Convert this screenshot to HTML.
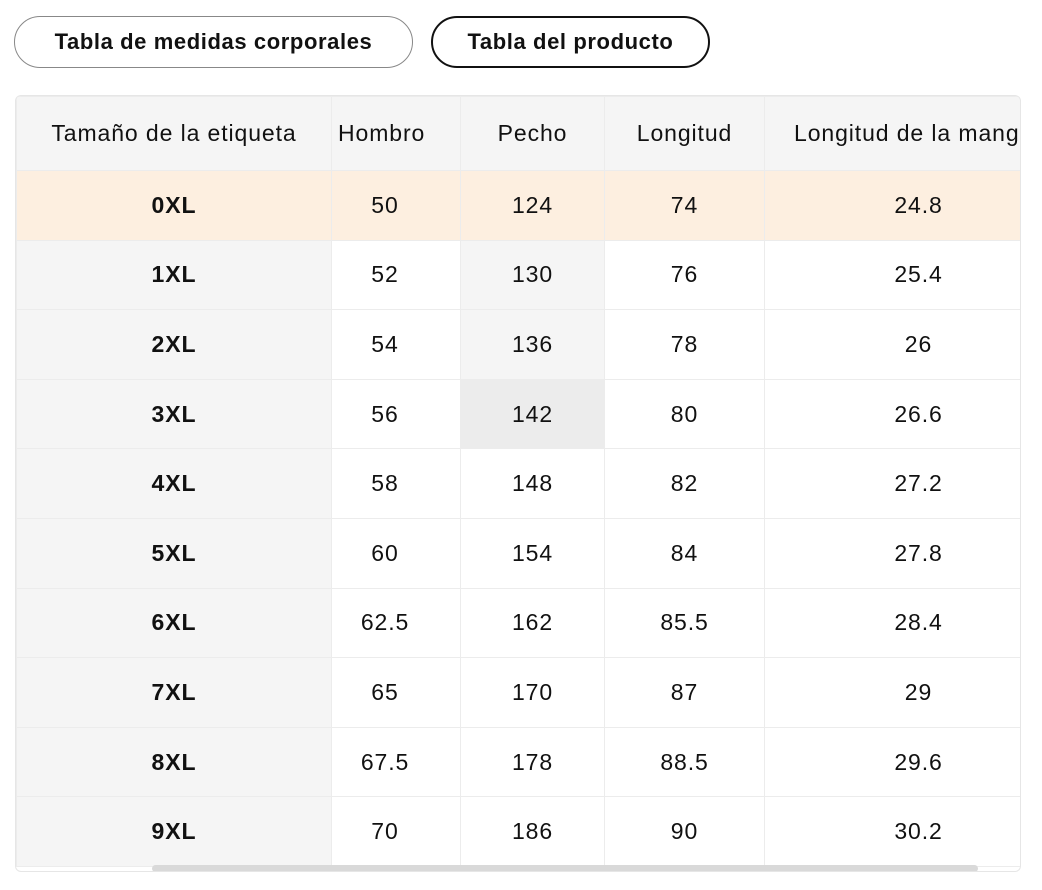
<!DOCTYPE html>
<html><head><meta charset="utf-8"><style>
body{margin:0;width:1042px;height:890px;background:#fff;font-family:"Liberation Sans",Arial,sans-serif;color:#111;position:relative;overflow:hidden}
.btn{position:absolute;top:16px;height:52px;box-sizing:border-box;border-radius:26px;background:#fff;font-size:22px;font-weight:bold;letter-spacing:0.6px;display:flex;align-items:center;justify-content:center;color:#111}
#b1{left:14px;width:399px;border:1px solid #888}
#b2{left:431px;width:279px;border:2px solid #111}
#wrap{position:absolute;left:15px;top:95px;width:1006px;height:777px;border:1px solid #e6e6e6;border-radius:6px;overflow:hidden;box-sizing:border-box}
table{border-collapse:collapse;table-layout:fixed;width:1060px;position:absolute;left:0;top:0}
td,th{border:1px solid #ececec;text-align:center;font-size:23px;letter-spacing:0.9px;font-weight:normal;padding:0}
th{height:73px;background:#f5f5f5;white-space:nowrap;overflow:hidden}
td{height:68.6px;background:#fff}
td.lab{background:#f5f5f5;font-weight:bold}
tr.hl td{background:#fdefe0}
#sb{position:absolute;left:136px;top:769px;width:826px;height:7px;background:#d9d9d9;border-radius:4px}
</style></head><body>
<div class="btn" id="b1">Tabla de medidas corporales</div>
<div class="btn" id="b2">Tabla del producto</div>
<div id="wrap">
<table>
<colgroup><col style="width:315px"><col style="width:129px"><col style="width:144px"><col style="width:160px"><col style="width:312px"></colgroup>
<thead><tr>
<th>Tamaño de la etiqueta</th>
<th style="text-align:left;padding-left:6px">Hombro</th>
<th>Pecho</th>
<th>Longitud</th>
<th style="text-align:left;padding-left:29px">Longitud de la manga</th>
</tr></thead>
<tbody id="tb"></tbody></table>
<div id="sb"></div>
</div>
<script>
const sizes=["0XL","1XL","2XL","3XL","4XL","5XL","6XL","7XL","8XL","9XL"];
const shoulder=["50","52","54","56","58","60","62.5","65","67.5","70"];
const chest=["124","130","136","142","148","154","162","170","178","186"];
const lengthV=["74","76","78","80","82","84","85.5","87","88.5","90"];
const sleeve=["24.8","25.4","26","26.6","27.2","27.8","28.4","29","29.6","30.2"];
const tb=document.getElementById('tb');
sizes.forEach((s,i)=>{
 const tr=document.createElement('tr');
 
 
 if(i===0)tr.className='hl';
 [s,shoulder[i],chest[i],lengthV[i],sleeve[i]].forEach((v,j)=>{
  const td=document.createElement('td');
  
  
  td.textContent=v;
  if(j===0)td.className='lab';
  if(j===1)td.style.paddingRight='22px';
  if(j===4)td.style.paddingRight='4px';
  if(j===2&&i>0&&i<3)td.style.background='#f5f5f5';
  if(j===2&&i===3)td.style.background='#ececec';
  tr.appendChild(td);
 });
 tb.appendChild(tr);
});
</script>
</body></html>
